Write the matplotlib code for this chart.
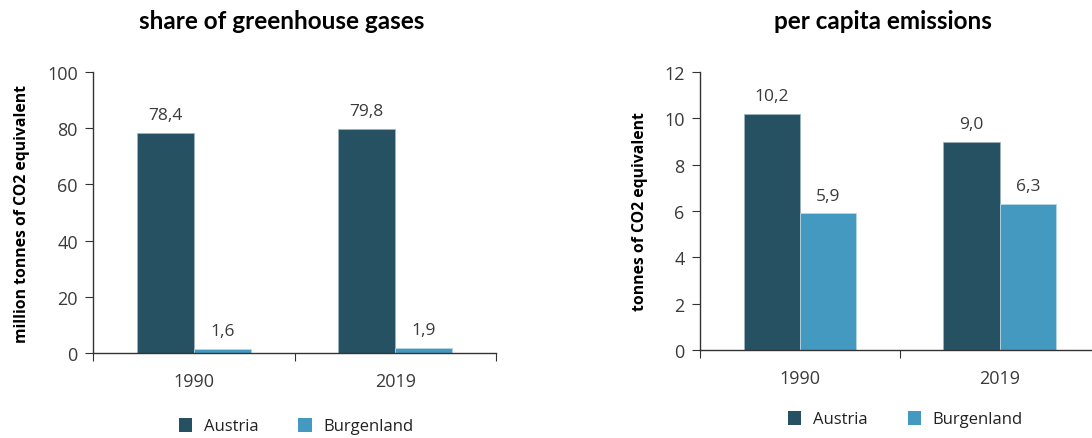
import matplotlib.pyplot as plt
import numpy as np
from matplotlib.patches import Patch

years = ['1990', '2019']
regions = ['Austria', 'Burgenland']
ghg_austria = [78.4, 79.8]
ghg_burgenland = [1.6, 1.9]
percap_austria = [10.2, 9.0]
percap_burgenland = [5.9, 6.3]

col_at = '#255163'
col_bgld = '#4499c0'
txt_col = '#3a3a3a'

plt.rcParams['font.family'] = ['Open Sans', 'DejaVu Sans']

fig = plt.figure(figsize=(10.92, 4.39), dpi=100)


def bar_panel(rect, austria, burgenland, ymax, ystep, title, ylabel, title_x):
    ax = fig.add_axes(rect)
    x = np.arange(len(years))
    w = 0.282
    b1 = ax.bar(x - w / 2, austria, w, color=col_at, edgecolor='#9fb3bd', linewidth=0.6)
    b2 = ax.bar(x + w / 2, burgenland, w, color=col_bgld, edgecolor='#b9d6e3', linewidth=0.6)
    for bars, vals in ((b1, austria), (b2, burgenland)):
        for r, v in zip(bars, vals):
            ax.annotate(f'{v:.1f}'.replace('.', ','),
                        (r.get_x() + r.get_width() / 2, r.get_height()),
                        xytext=(0, 7), textcoords='offset points',
                        ha='center', va='bottom', fontsize=12.5, color=txt_col)
    ax.set_xlim(-0.5, 1.5)
    ax.set_ylim(0, ymax)
    ax.set_yticks(np.arange(0, ymax + 0.1, ystep))
    ax.set_xticks([-0.5, 0.5, 1.5])
    ax.set_xticklabels([])
    ax.set_xticks(x, minor=True)
    ax.set_xticklabels(years, minor=True)
    ax.tick_params(axis='x', which='minor', length=0, pad=14, labelsize=13, labelcolor=txt_col)
    ax.tick_params(axis='x', which='major', length=6, direction='out', color='#333333')
    ax.tick_params(axis='y', length=6, labelsize=13, labelcolor=txt_col, color='#333333', pad=5)
    for s in ('top', 'right'):
        ax.spines[s].set_visible(False)
    for s in ('left', 'bottom'):
        ax.spines[s].set_color('#333333')
        ax.spines[s].set_linewidth(1.0)
    ax.set_ylabel(ylabel, fontsize=11.3, fontweight='bold', color='black', labelpad=12)
    fig.text(title_x, 0.95, title, ha='center', va='center',
             fontsize=17.5, fontweight='bold', family=['Lato', 'DejaVu Sans'])
    return ax


ax1 = bar_panel([0.0852, 0.1936, 0.369, 0.640], ghg_austria, ghg_burgenland, 100, 20,
                'share of greenhouse gases', 'million tonnes of CO2 equivalent', 0.258)
ax2 = bar_panel([0.641, 0.2005, 0.366, 0.633], percap_austria, percap_burgenland, 12, 2,
                'per capita emissions', 'tonnes of CO2 equivalent', 0.809)

handles = [Patch(facecolor=col_at, label=regions[0]), Patch(facecolor=col_bgld, label=regions[1])]
for cx, cy in ((0.271, 0.027), (0.829, 0.043)):
    fig.legend(handles=handles, loc='center', bbox_to_anchor=(cx, cy), ncol=2, frameon=False,
               handlelength=0.8, handleheight=0.9, columnspacing=2.4, handletextpad=0.7,
               fontsize=12, labelcolor='#222222')

fig.savefig('out.png', dpi=100)
